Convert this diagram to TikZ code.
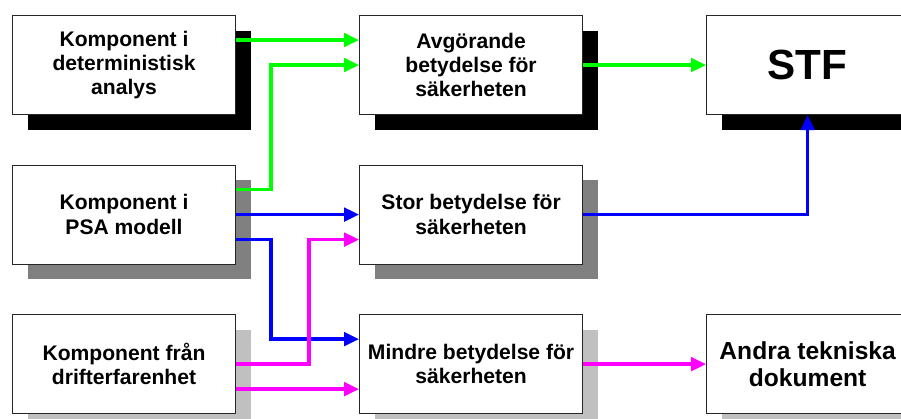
\documentclass[tikz,border=0pt]{standalone}
\usepackage{fontspec}
\setmainfont{Liberation Sans}
\usetikzlibrary{arrows.meta}
\usetikzlibrary{calc}
\usetikzlibrary{positioning}
\usetikzlibrary{shadows}

\definecolor{ggreen}{RGB}{0,255,0}
\definecolor{bblue}{RGB}{0,0,255}
\definecolor{mmagenta}{RGB}{255,0,255}
\definecolor{shdark}{RGB}{128,128,128}
\definecolor{shlight}{RGB}{192,192,192}

\begin{document}
\begin{tikzpicture}

\pgfmathsetmacro{\XD}{2.46}
\pgfmathsetmacro{\YD}{0.99}
\pgfmathsetmacro{\DY}{0.5}
\pgfmathsetmacro{\DX}{0.7}

\tikzset{
  box/.style={draw=black!85, line width=0.6pt, fill=white, align=center, anchor=north west,
    inner sep=0pt, minimum width=4.46cm, minimum height=1.98cm,
    font=\bfseries\fontsize{12}{13.9}\selectfont},
  boxshadow/.style={drop shadow={shadow xshift=0.3cm, shadow yshift=-0.3cm, fill=#1, opacity=1}},
  flow/.style={line width=1.9pt, draw=#1, -{Triangle[length=3mm, width=2.7mm, fill=#1]}},
}

\useasboundingbox (0,0) rectangle (18.02,-8.38);
\clip (0,0) rectangle (18.02,-8.38);

\node [box, boxshadow=black] (K1) at (0.24,-0.30) {Komponent i\\deterministisk\\analys};
\node [box, boxshadow=shdark] (K2) at ($(K1.south west) + (0,-\YD)$) {Komponent i\\PSA modell};
\node [box, boxshadow=shlight] (K3) at ($(K2.south west) + (0,-\YD)$) {Komponent från\\drifterfarenhet};

\node [box, boxshadow=black] (A1) at ($(K1.north east) + (\XD,0)$) {Avgörande\\betydelse för\\säkerheten};
\node [box, boxshadow=shdark] (S1) at ($(K2.north east) + (\XD,0)$) {Stor betydelse för\\säkerheten};
\node [box, boxshadow=shlight] (M1) at ($(K3.north east) + (\XD,0)$) {Mindre betydelse för\\säkerheten};

\node [box, boxshadow=black, minimum width=4.04cm, font=\bfseries\fontsize{24}{28}\selectfont]
  (STF) at ($(A1.north east) + (\XD,0)$) {STF};
\node [box, boxshadow=shlight, minimum width=4.04cm, font=\bfseries\fontsize{14}{15.4}\selectfont]
  (AT) at ($(M1.north east) + (\XD,0)$) {Andra tekniska\\dokument};

% green
\draw [flow=ggreen] ([yshift=\DY cm]K1.east) -- ([yshift=\DY cm]A1.west);
\draw [flow=ggreen] ([yshift=\DY cm]K2.east) -- ++(\DX,0) |- (A1.west);
\draw [flow=ggreen] (A1.east) -- (STF.west);

% blue
\draw [flow=bblue] (K2.east) -- (S1.west);
\draw [flow=bblue] ([yshift=-\DY cm]K2.east) -- ++(\DX,0) |- ([yshift=\DY cm]M1.west);
\draw [flow=bblue] (S1.east) -| (STF.south);

% magenta
\draw [flow=mmagenta] (K3.east) -- ++(1.46,0) |- ([yshift=-\DY cm]S1.west);
\draw [flow=mmagenta] ([yshift=-\DY cm]K3.east) -- ([yshift=-\DY cm]M1.west);
\draw [flow=mmagenta] (M1.east) -- (AT.west);

\end{tikzpicture}
\end{document}
